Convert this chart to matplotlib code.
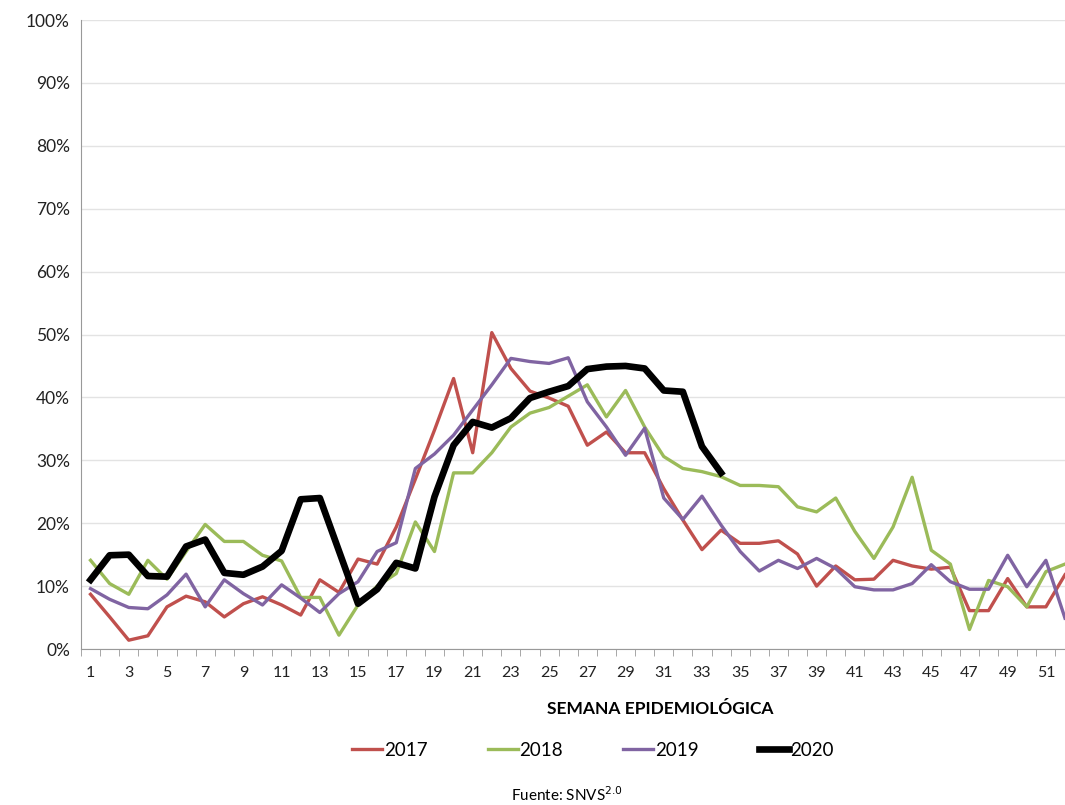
import numpy as np
import matplotlib
matplotlib.use("Agg")
import matplotlib.pyplot as plt
from matplotlib.ticker import MultipleLocator, FixedLocator, FuncFormatter

plt.rcParams['font.family'] = ['Lato', 'DejaVu Sans']

weeks = np.arange(1, 53)

y2017 = [8.7, 5.1, 1.4, 2.1, 6.7, 8.4, 7.5, 5.1, 7.2, 8.3,
         7.0, 5.4, 11.0, 9.0, 14.3, 13.5, 19.4, 27.0, 34.8, 43.0,
         31.2, 50.3, 44.6, 41.0, 39.9, 38.6, 32.4, 34.5, 31.2, 31.2,
         25.5, 20.5, 15.8, 18.9, 16.8, 16.8, 17.2, 15.1, 10.0, 13.2,
         11.0, 11.1, 14.1, 13.2, 12.7, 13.0, 6.1, 6.1, 11.2, 6.7,
         6.7, 11.8]
y2018 = [14.1, 10.4, 8.7, 14.1, 11.1, 15.5, 19.8, 17.1, 17.1, 14.9,
         14.0, 8.2, 8.2, 2.2, 7.0, 10.0, 12.0, 20.2, 15.5, 28.0,
         28.0, 31.2, 35.3, 37.5, 38.4, 40.2, 42.0, 36.9, 41.1, 35.3,
         30.6, 28.7, 28.2, 27.4, 26.0, 26.0, 25.8, 22.6, 21.8, 24.0,
         18.7, 14.4, 19.4, 27.3, 15.7, 13.5, 3.1, 10.9, 9.9, 6.7,
         12.3, 13.5]
y2019 = [9.6, 7.9, 6.6, 6.4, 8.6, 11.9, 6.7, 11.0, 8.8, 7.0,
         10.2, 8.1, 5.8, 8.8, 10.7, 15.5, 16.9, 28.7, 31.0, 34.0,
         38.0, 42.0, 46.2, 45.7, 45.4, 46.3, 39.3, 35.3, 30.8, 35.1,
         24.0, 20.6, 24.3, 19.7, 15.5, 12.4, 14.1, 12.8, 14.4, 12.8,
         9.9, 9.4, 9.4, 10.4, 13.4, 10.7, 9.5, 9.5, 14.9, 9.9,
         14.1, 4.9]
y2020 = [11.0, 14.9, 15.0, 11.6, 11.5, 16.3, 17.4, 12.1, 11.8, 13.1,
         15.6, 23.8, 24.0, 15.6, 7.2, 9.5, 13.7, 12.8, 24.2, 32.4,
         36.1, 35.2, 36.7, 39.9, 40.9, 41.8, 44.5, 44.9, 45.0, 44.6,
         41.1, 40.9, 32.2, 28.0]

fig = plt.figure(figsize=(10.65, 8.05), dpi=100, facecolor='white')
ax = fig.add_axes([81/1065, 1-649/805, (1065-81)/1065, 629/805])

ax.plot(weeks, y2017, color='#C0504D', lw=2.4, label='2017')
ax.plot(weeks, y2018, color='#9BBB59', lw=2.4, label='2018')
ax.plot(weeks, y2019, color='#8064A2', lw=2.4, label='2019')
ax.plot(weeks[:len(y2020)], y2020, color='black', lw=4.8, label='2020',
        solid_joinstyle='round')

ax.set_xlim(0.5, 52.0)
ax.set_ylim(0, 100)
ax.yaxis.set_major_locator(MultipleLocator(10))
ax.yaxis.set_major_formatter(FuncFormatter(lambda v, p: '%d%%' % v))
ax.grid(axis='y', color='#e3e3e3', lw=1)
ax.set_axisbelow(True)

# labels on odd weeks, tick marks between categories
ax.xaxis.set_major_locator(FixedLocator(np.arange(1, 53, 2)))
ax.xaxis.set_minor_locator(FixedLocator(np.arange(0.5, 53, 1)))
ax.tick_params(axis='x', which='major', length=0, labelsize=11.5, pad=12, colors='#222222')
ax.tick_params(axis='x', which='minor', length=5, color='#999999')
ax.tick_params(axis='y', length=0, labelsize=12.5, pad=8, colors='#222222')

for s in ['top', 'right']:
    ax.spines[s].set_visible(False)
ax.spines['left'].set_color('#999999')
ax.spines['bottom'].set_color('#999999')

fig.text(660/1065, 1-709/805, 'SEMANA EPIDEMIOLÓGICA', ha='center', va='center',
         fontsize=12.5, fontweight='bold')

fig.legend(loc='center', bbox_to_anchor=(593/1065, 1-750/805), ncol=4, frameon=False,
           fontsize=13.5, handlelength=1.6, columnspacing=3.2, handletextpad=0.1)

fig.text(567/1065, 1-795/805, r'Fuente: SNVS$^{2.0}$', ha='center', va='center', fontsize=11)

fig.savefig('out.png', dpi=100, facecolor='white')
